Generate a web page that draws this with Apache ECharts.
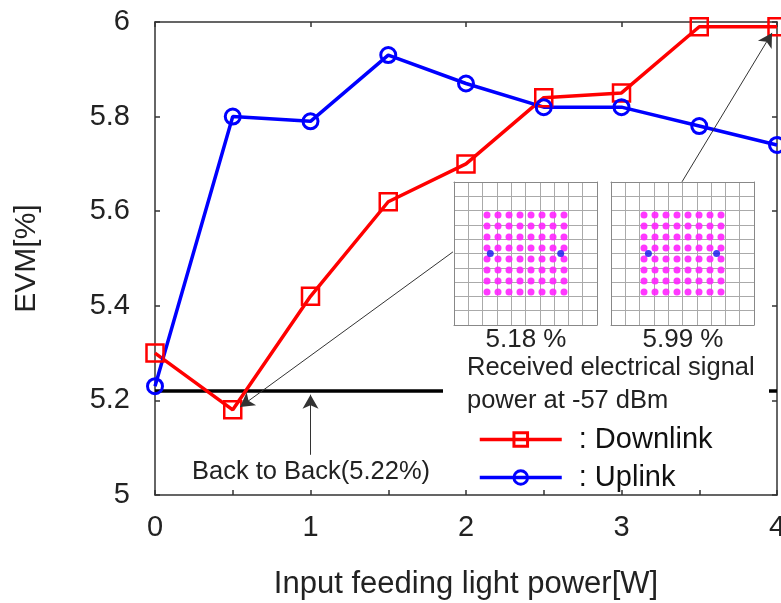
<!DOCTYPE html>
<html>
<head>
<meta charset="utf-8">
<script src="https://cdn.jsdelivr.net/npm/echarts@6/dist/echarts.min.js"></script>
<style>
  html, body { margin: 0; padding: 0; background: #fff; }
  #chart { width: 781px; height: 603px; }
</style>
</head>
<body>
<div id="chart"></div>
<script>
// data
const powerW = [0, 0.5, 1, 1.5, 2, 2.5, 3, 3.5, 4]
const downlink = [5.30, 5.18, 5.42, 5.62, 5.70, 5.84, 5.85, 5.99, 5.99]
const uplink = [5.23, 5.80, 5.79, 5.93, 5.87, 5.82, 5.82, 5.78, 5.74]
const backToBackX = [0, 4]
const backToBackY = [5.22, 5.22]
const yTicks = ['5', '5.2', '5.4', '5.6', '5.8', '6']
const xTicks = ['0', '1', '2', '3', '4']

// 64-QAM constellation levels and pilot positions for the insets
const qamLevels = [-7, -5, -3, -1, 1, 3, 5, 7]
const pilotsLeft = [[-6.4, 0], [6.4, 0]]
const pilotsRight = [[-6.2, 0], [6.2, 0]]
const insetLabels = ['5.18 %', '5.99 %']

const font = 'Liberation Sans, Arial, sans-serif'

const toPairs = (xs, ys) => xs.map((x, i) => [x, ys[i]])
const qamPoints = []
qamLevels.forEach(i => qamLevels.forEach(q => qamPoints.push([i, q])))

const chart = echarts.init(document.getElementById('chart'))

function insetAxis(gridIndex, pos) {
  return {
    type: 'value', gridIndex, position: pos,
    min: -13, max: 13, interval: 2.6,
    axisLabel: { show: false }, axisTick: { show: false },
    axisLine: { show: true, onZero: false, lineStyle: { color: '#888', width: 1 } },
    splitLine: { show: true, lineStyle: { color: '#aaa', width: 1 } },
  }
}

const mainTick = { show: true, inside: true, length: 5, lineStyle: { color: '#333', width: 1.5 } }
const mainLine = { show: true, onZero: false, lineStyle: { color: '#333', width: 1.5 } }

chart.setOption({
  animation: false,
  backgroundColor: '#fff',
  textStyle: { fontFamily: font },
  grid: [
    { left: 155, top: 22, right: 4, bottom: 108, outerBoundsMode: 'none', containLabel: false },
    { left: 454, top: 182, width: 143, height: 143, outerBoundsMode: 'none' },
    { left: 611, top: 182, width: 143, height: 143, outerBoundsMode: 'none' },
  ],
  xAxis: [
    {
      type: 'value', gridIndex: 0, min: 0, max: 4, interval: 1,
      name: 'Input feeding light power[W]', nameLocation: 'middle', nameGap: 74,
      nameTextStyle: { fontSize: 31, color: '#222', fontFamily: font },
      axisLine: mainLine, axisTick: mainTick,
      minorTick: { show: true, splitNumber: 2, length: 5, lineStyle: { color: '#333', width: 1.5 } },
      axisLabel: { fontSize: 29, color: '#222', margin: 18, formatter: v => xTicks[Math.round(v)] },
      splitLine: { show: false },
    },
    {
      type: 'value', gridIndex: 0, position: 'top', min: 0, max: 4, interval: 1,
      axisLine: mainLine, axisTick: mainTick, axisLabel: { show: false }, splitLine: { show: false },
    },
    insetAxis(1, 'bottom'), insetAxis(1, 'top'),
    insetAxis(2, 'bottom'), insetAxis(2, 'top'),
  ],
  yAxis: [
    {
      type: 'value', gridIndex: 0, min: 5, max: 6, interval: 0.2,
      name: 'EVM[%]', nameLocation: 'middle', nameGap: 113, nameRotate: 90,
      nameTextStyle: { fontSize: 30, color: '#222', fontFamily: font },
      axisLine: mainLine, axisTick: mainTick,
      axisLabel: { fontSize: 29, color: '#222', margin: 25, formatter: v => yTicks[Math.round((v - 5) / 0.2)] },
      splitLine: { show: false },
    },
    {
      type: 'value', gridIndex: 0, position: 'right', min: 5, max: 6, interval: 0.2,
      axisLine: mainLine, axisTick: mainTick, axisLabel: { show: false }, splitLine: { show: false },
    },
    insetAxis(1, 'left'), insetAxis(1, 'right'),
    insetAxis(2, 'left'), insetAxis(2, 'right'),
  ],
  legend: {
    orient: 'vertical', left: 473, top: 420, itemGap: 9,
    itemWidth: 82, itemHeight: 17,
    data: ['Downlink', 'Uplink'],
    formatter: n => ': ' + n,
    lineStyle: { width: 3.5 },
    itemStyle: { borderWidth: 3 },
    textStyle: { fontSize: 29, color: '#111', fontFamily: font, padding: [0, 0, 0, 12] },
    z: 6,
  },
  series: [
    {
      name: 'BackToBack', type: 'line', xAxisIndex: 0, yAxisIndex: 0,
      data: toPairs(backToBackX, backToBackY), symbol: 'none',
      lineStyle: { color: '#000', width: 3.5 }, z: 1,
      markLine: {
        silent: true, symbol: ['none', 'arrow'], symbolSize: [12, 14],
        lineStyle: { color: '#333', width: 1, type: 'solid' }, label: { show: false },
        data: [
          [{ coord: [1, 5.085] }, { coord: [1, 5.212] }],
          [{ coord: [1.916, 5.514] }, { coord: [0.547, 5.186] }],
          [{ coord: [3.389, 5.662] }, { coord: [3.968, 5.977] }],
        ],
      },
    },
    {
      name: 'Downlink', type: 'line', xAxisIndex: 0, yAxisIndex: 0,
      data: toPairs(powerW, downlink), clip: false, z: 3,
      symbol: 'rect', symbolSize: 17,
      lineStyle: { color: '#ff0000', width: 3.5 },
      itemStyle: { color: 'rgba(255,255,255,0)', borderColor: '#ff0000', borderWidth: 2.5 },
    },
    {
      name: 'Uplink', type: 'line', xAxisIndex: 0, yAxisIndex: 0,
      data: toPairs(powerW, uplink), clip: false, z: 3,
      symbol: 'circle', symbolSize: 15,
      lineStyle: { color: '#0000ff', width: 3.5 },
      itemStyle: { color: 'rgba(255,255,255,0)', borderColor: '#0000ff', borderWidth: 3 },
    },
    {
      type: 'scatter', xAxisIndex: 2, yAxisIndex: 2, data: qamPoints,
      symbolSize: 7, itemStyle: { color: '#ff22ff', opacity: 0.9 },
    },
    {
      type: 'scatter', xAxisIndex: 2, yAxisIndex: 2, data: pilotsLeft,
      symbolSize: 7, itemStyle: { color: '#1010ee' },
    },
    {
      type: 'scatter', xAxisIndex: 4, yAxisIndex: 4, data: qamPoints,
      symbolSize: 7, itemStyle: { color: '#ff22ff', opacity: 0.9 },
    },
    {
      type: 'scatter', xAxisIndex: 4, yAxisIndex: 4, data: pilotsRight,
      symbolSize: 7, itemStyle: { color: '#1010ee' },
    },
  ],
  graphic: [
    // white box behind the caption and legend (hides the back-to-back line there)
    { type: 'rect', z: 4, shape: { x: 443, y: 328, width: 326, height: 158 }, style: { fill: '#fff' } },
    { type: 'text', z: 5, x: 526, y: 340, style: { text: insetLabels[0], font: '26px ' + font, fill: '#222', align: 'center', verticalAlign: 'middle' } },
    { type: 'text', z: 5, x: 683, y: 340, style: { text: insetLabels[1], font: '26px ' + font, fill: '#222', align: 'center', verticalAlign: 'middle' } },
    { type: 'text', z: 5, x: 467, y: 368, style: { text: 'Received electrical signal', font: '25.5px ' + font, fill: '#222', verticalAlign: 'middle' } },
    { type: 'text', z: 5, x: 467, y: 401, style: { text: 'power at -57 dBm', font: '25.5px ' + font, fill: '#222', verticalAlign: 'middle' } },
    { type: 'text', z: 5, x: 311, y: 472, style: { text: 'Back to Back(5.22%)', font: '25.5px ' + font, fill: '#222', align: 'center', verticalAlign: 'middle' } },
  ],
})
</script>
</body>
</html>
